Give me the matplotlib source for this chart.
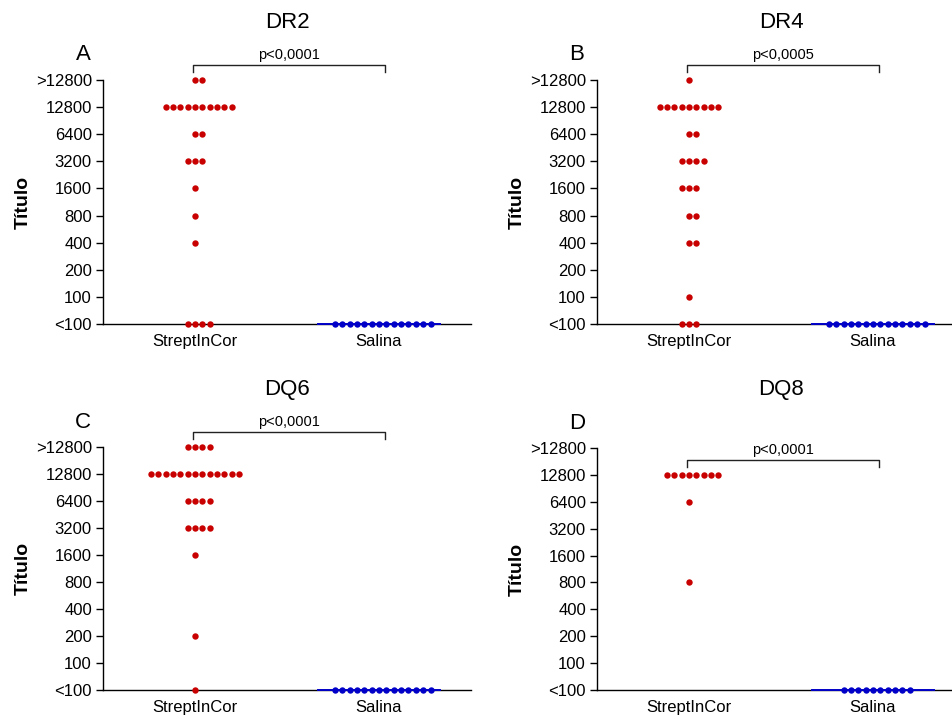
import numpy as np
import matplotlib
matplotlib.use("Agg")
import matplotlib.pyplot as plt

plt.rcParams['font.family'] = ['Liberation Sans', 'DejaVu Sans']

# titer levels (y axis categories, bottom to top)
levels = ["<100", "100", "200", "400", "800", "1600", "3200", "6400", "12800", ">12800"]
groups = ["StreptInCor", "Salina"]

# number of animals per titer level (same order as `levels`)
dr2_strept = [4, 0, 0, 1, 1, 1, 3, 2, 10, 2]
dr2_salina = [14, 0, 0, 0, 0, 0, 0, 0, 0, 0]
dr4_strept = [3, 1, 0, 2, 2, 3, 4, 2, 9, 1]
dr4_salina = [14, 0, 0, 0, 0, 0, 0, 0, 0, 0]
dq6_strept = [1, 0, 1, 0, 0, 1, 4, 4, 13, 4]
dq6_salina = [14, 0, 0, 0, 0, 0, 0, 0, 0, 0]
dq8_strept = [0, 0, 0, 0, 1, 0, 0, 1, 8, 0]
dq8_salina = [10, 0, 0, 0, 0, 0, 0, 0, 0, 0]

titles = ["DR2", "DR4", "DQ6", "DQ8"]
letters = ["A", "B", "C", "D"]
pvalues = ["p<0,0001", "p<0,0005", "p<0,0001", "p<0,0001"]
panels = [(dr2_strept, dr2_salina), (dr4_strept, dr4_salina),
          (dq6_strept, dq6_salina), (dq8_strept, dq8_salina)]

RED = "#c80000"
BLUE = "#0000c8"
W, H = 953, 719
fig = plt.figure(figsize=(W / 100, H / 100), dpi=100)

# axes boxes in pixels: (left, top_tick_y, bottom_y)
boxes = [(103, 80, 324), (597, 80, 324), (103, 447, 690), (597, 448, 690)]
axw = 368
spacing = 0.04

for i, ((ls, rs, bot), (s_counts, c_counts)) in enumerate(zip(boxes, panels)):
    ax = fig.add_axes([ls / W, 1 - bot / H, axw / W, (bot - rs) / H])
    ax.set_xlim(-0.5, 1.5)
    ax.set_ylim(0, len(levels) - 1)
    for gi, (counts, col) in enumerate([(s_counts, RED), (c_counts, BLUE)]):
        xs, ys = [], []
        for li, n in enumerate(counts):
            if n == 0:
                continue
            offs = (np.arange(n) - (n - 1) // 2) * spacing
            xs.extend(gi + offs)
            ys.extend([li] * n)
        if gi == 1:
            med = np.median(ys)
            ax.plot([gi - 0.33, gi + 0.33], [med, med], color=col, lw=1.4,
                    clip_on=False, zorder=3)
        ax.plot(xs, ys, 'o', color=col, ms=4.6, mec=col, mew=0,
                clip_on=False, zorder=4)
    ax.spines['top'].set_visible(False)
    ax.spines['right'].set_visible(False)
    ax.spines['left'].set_linewidth(1.0)
    ax.spines['bottom'].set_linewidth(1.0)
    ax.set_yticks(range(len(levels)))
    ax.set_yticklabels(levels, fontsize=12)
    ax.set_xticks([0, 1])
    ax.set_xticklabels(groups, fontsize=12)
    ax.tick_params(axis='y', length=5, width=1.0, pad=3)
    ax.tick_params(axis='x', length=0, pad=7)
    ax.set_ylabel("Título", fontsize=14, fontweight='bold')
    ax.yaxis.set_label_coords(-0.193, 0.5)

    # significance bracket
    top = max(li for li, n in enumerate(s_counts) if n > 0)
    by = top + 0.55
    ax.plot([-0.01, -0.01, 1.035, 1.035], [by - 0.27, by, by, by - 0.27],
            color='#222222', lw=1.0, clip_on=False)
    ax.text(0.51, by + 0.12, pvalues[i], ha='center', va='bottom', fontsize=10.5)

    # title and panel letter
    ax_h = bot - rs
    ax.text(0.5, 1 + 58 / ax_h, titles[i], transform=ax.transAxes,
            ha='center', va='center', fontsize=16)
    ax.text(-20 / axw, 1 + 25 / ax_h, letters[i], transform=ax.transAxes,
            ha='center', va='center', fontsize=16)

fig.savefig("out.png", dpi=100)
